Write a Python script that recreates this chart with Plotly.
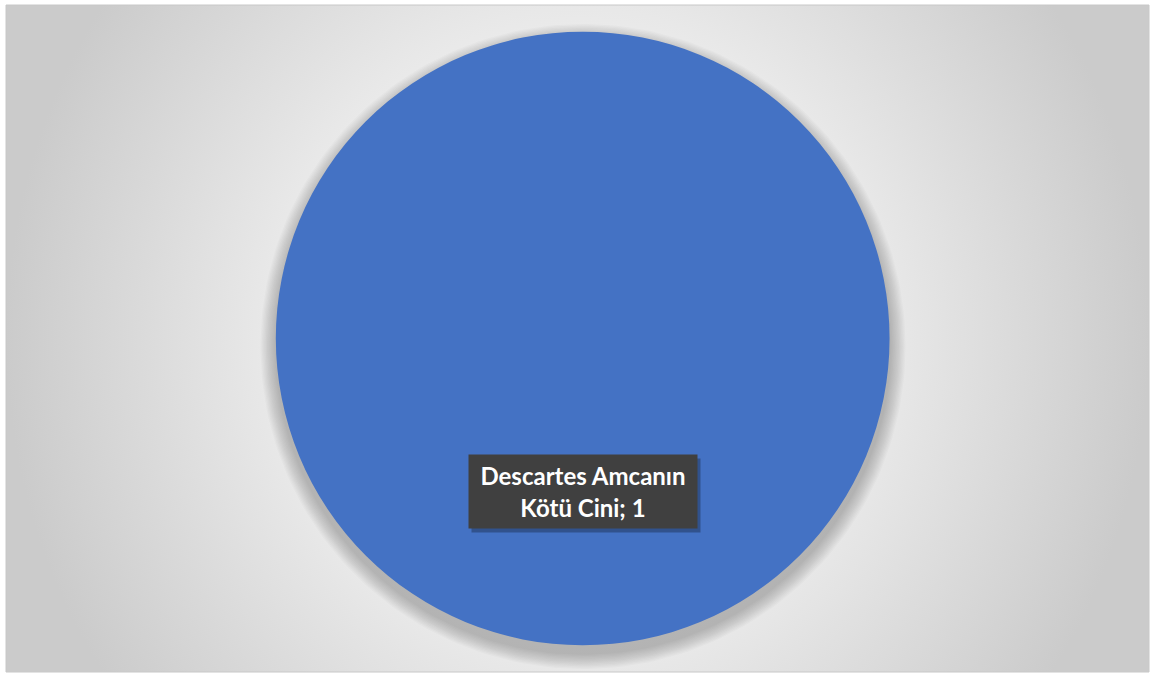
import numpy as np
import plotly.graph_objects as go

# Data
labels = ["Descartes Amcanın Kötü Cini"]
values = [1]
slice_colors = ["#4472C4"]

W, H = 1155, 675
ML, MR, MT, MB = 6, 6, 5, 3
PW, PH = W - ML - MR, H - MT - MB

fig = go.Figure()

# Soft radial-gradient backdrop (polygon taller than the view so the glow is round)
fig.add_trace(go.Scatter(
    x=[0, 1, 1, 0, 0],
    y=[-0.4, -0.4, 1.4, 1.4, -0.4],
    mode="lines",
    line=dict(width=0),
    fill="toself",
    fillgradient=dict(
        type="radial",
        colorscale=[[0.0, "#ffffff"], [0.3, "#f6f6f6"], [0.55, "#e8e8e8"], [1.0, "#cbcbcb"]],
    ),
    hoverinfo="skip",
    showlegend=False,
))

# Soft shadow beneath the pie
cx, cy, r_px = (583 - ML) / PW, 0.5, 307
theta = np.linspace(0, 2 * np.pi, 240)
for k in range(1, 13):
    rr = r_px + k * 1.3
    fig.add_trace(go.Scatter(
        x=cx + rr * np.cos(theta) / PW,
        y=cy - 8 / PH + rr * np.sin(theta) / PH,
        mode="lines", line=dict(width=0),
        fill="toself", fillcolor="rgba(0,0,0,0.02)",
        hoverinfo="skip", showlegend=False,
    ))

# Pie
fig.add_trace(go.Pie(
    labels=labels,
    values=values,
    marker=dict(colors=slice_colors, line=dict(width=0)),
    textinfo="none",
    sort=False,
    direction="clockwise",
    domain=dict(x=[0.236, 0.773], y=[0.04, 0.96]),
    showlegend=False,
    hovertemplate="%{label}: %{value}<extra></extra>",
))

# Data label (name; value in a dark box) with a small drop shadow
words = labels[0].split(" ")
label_text = " ".join(words[:2]) + "<br>" + " ".join(words[2:]) + f"; {values[0]}"
label_font = dict(family="Lato, Open Sans, sans-serif", size=24, weight="bold", color="white")
box = dict(x=0.505, y=0.27, xref="paper", yref="paper", xanchor="center",
           yanchor="middle", showarrow=False, align="center", valign="middle",
           width=214, height=59, borderpad=7)

fig.add_annotation(**box, xshift=3, yshift=-4, text=" ", bgcolor="rgba(0,0,0,0.28)")
fig.add_annotation(**box, text=label_text, font=label_font, bgcolor="#404040")

fig.update_layout(
    width=W,
    height=H,
    margin=dict(l=ML, r=MR, t=MT, b=MB, autoexpand=False),
    paper_bgcolor="white",
    plot_bgcolor="white",
    xaxis=dict(range=[0, 1], visible=False, fixedrange=True),
    yaxis=dict(range=[0, 1], visible=False, fixedrange=True),
    shapes=[dict(
        type="rect", xref="paper", yref="paper", x0=0, x1=1, y0=0, y1=1,
        line=dict(color="#c8c8c8", width=1), fillcolor="rgba(0,0,0,0)",
    )],
)

# drop the browser's default body margin so the figure sits at the page corner
fig.write_html(
    "out.html",
    config={"displayModeBar": False},
    post_script="document.body.style.margin='0';",
)
